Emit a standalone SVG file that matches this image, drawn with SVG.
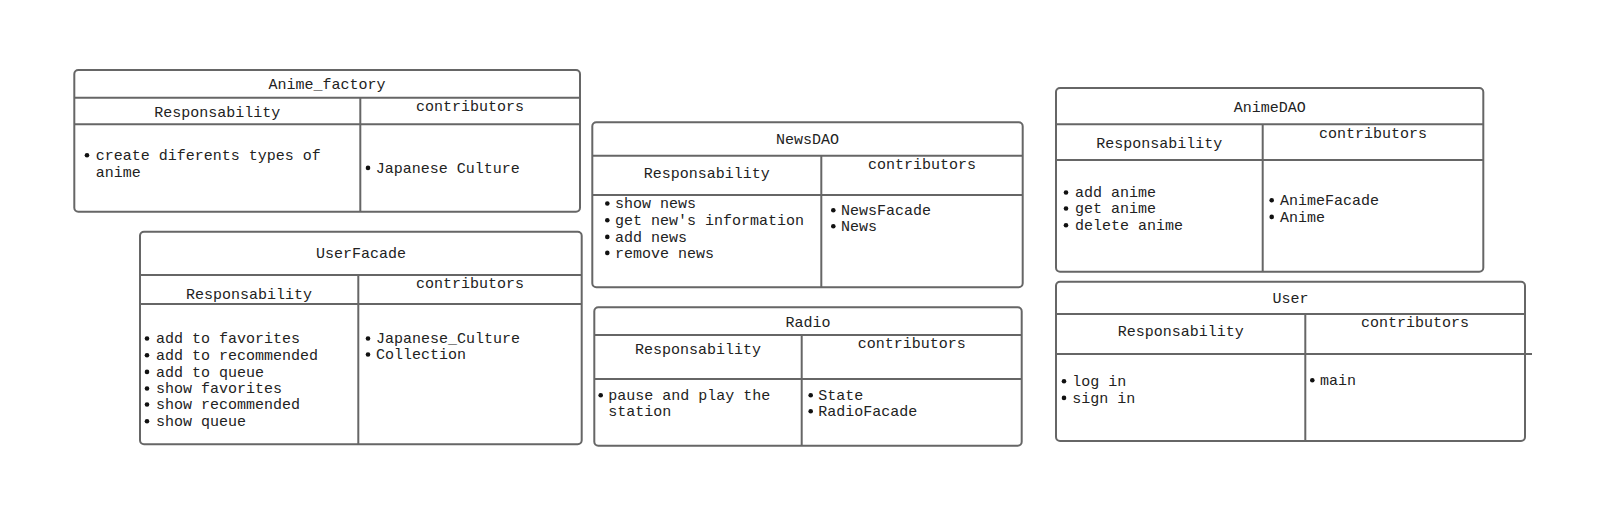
<svg xmlns="http://www.w3.org/2000/svg" width="1600" height="527" viewBox="0 0 1600 527">
<style>
.box{fill:#fff;stroke:#666;stroke-width:2}
.ln{stroke:#666;stroke-width:2;fill:none}
text{font-family:"Liberation Mono","DejaVu Sans Mono",monospace;font-size:15px;fill:#222}
.c{text-anchor:middle}
.b{fill:#111}
</style>
<rect width="1600" height="527" fill="#fff"/>
<g id="connectors"></g>

<g id="anime_factory">
<rect class="box" x="74.3" y="70" width="505.7" height="141.7" rx="4"/>
<line class="ln" x1="74.3" y1="97.7" x2="580" y2="97.7"/>
<line class="ln" x1="74.3" y1="124.3" x2="580" y2="124.3"/>
<line class="ln" x1="360.3" y1="97.7" x2="360.3" y2="211.7"/>
<text class="c" x="327" y="89.3">Anime_factory</text>
<text class="c" x="217.3" y="116.7">Responsability</text>
<text class="c" x="470" y="110.7">contributors</text>
<circle class="b" cx="87" cy="155.2" r="2.3"/>
<text x="95.7" y="160">create diferents types of</text>
<text x="95.7" y="176.7">anime</text>
<circle class="b" cx="368" cy="167.9" r="2.3"/>
<text x="375.7" y="172.7">Japanese Culture</text>
</g>

<g id="userfacade">
<rect class="box" x="140" y="231.7" width="441.7" height="212.6" rx="4"/>
<line class="ln" x1="140" y1="275" x2="581.7" y2="275"/>
<line class="ln" x1="140" y1="304" x2="581.7" y2="304"/>
<line class="ln" x1="358.3" y1="275" x2="358.3" y2="444.3"/>
<text class="c" x="361" y="258.3">UserFacade</text>
<text class="c" x="249" y="299">Responsability</text>
<text class="c" x="470" y="288.3">contributors</text>
<circle class="b" cx="147" cy="338.5" r="2.3"/>
<text x="156" y="343.3">add to favorites</text>
<circle class="b" cx="147" cy="355.2" r="2.3"/>
<text x="156" y="360">add to recommended</text>
<circle class="b" cx="147" cy="371.9" r="2.3"/>
<text x="156" y="376.7">add to queue</text>
<circle class="b" cx="147" cy="388.5" r="2.3"/>
<text x="156" y="393.3">show favorites</text>
<circle class="b" cx="147" cy="404.5" r="2.3"/>
<text x="156" y="409.3">show recommended</text>
<circle class="b" cx="147" cy="421.2" r="2.3"/>
<text x="156" y="426">show queue</text>
<circle class="b" cx="368" cy="338.5" r="2.3"/>
<text x="376" y="343.3">Japanese_Culture</text>
<circle class="b" cx="368" cy="354.5" r="2.3"/>
<text x="376" y="359.3">Collection</text>
</g>

<g id="newsdao">
<rect class="box" x="592.3" y="122.3" width="430.4" height="165" rx="4"/>
<line class="ln" x1="592.3" y1="155.7" x2="1022.7" y2="155.7"/>
<line class="ln" x1="592.3" y1="195" x2="1022.7" y2="195"/>
<line class="ln" x1="821.3" y1="155.7" x2="821.3" y2="287.3"/>
<text class="c" x="807.5" y="144.3">NewsDAO</text>
<text class="c" x="706.8" y="178.3">Responsability</text>
<text class="c" x="922" y="169">contributors</text>
<circle class="b" cx="607.3" cy="203.5" r="2.3"/>
<text x="615" y="208.3">show news</text>
<circle class="b" cx="607.3" cy="220.2" r="2.3"/>
<text x="615" y="225">get new's information</text>
<circle class="b" cx="607.3" cy="236.9" r="2.3"/>
<text x="615" y="241.7">add news</text>
<circle class="b" cx="607.3" cy="252.9" r="2.3"/>
<text x="615" y="257.7">remove news</text>
<circle class="b" cx="833.3" cy="210.2" r="2.3"/>
<text x="841" y="215">NewsFacade</text>
<circle class="b" cx="833.3" cy="226.2" r="2.3"/>
<text x="841" y="231">News</text>
</g>

<g id="radio">
<rect class="box" x="594.3" y="307.3" width="427.4" height="138.4" rx="4"/>
<line class="ln" x1="594.3" y1="335" x2="1021.7" y2="335"/>
<line class="ln" x1="594.3" y1="379" x2="1021.7" y2="379"/>
<line class="ln" x1="801.7" y1="335" x2="801.7" y2="445.7"/>
<text class="c" x="808" y="326.7">Radio</text>
<text class="c" x="698" y="354.3">Responsability</text>
<text class="c" x="911.7" y="347.7">contributors</text>
<circle class="b" cx="600.7" cy="395.2" r="2.3"/>
<text x="608.3" y="400">pause and play the</text>
<text x="608.3" y="416">station</text>
<circle class="b" cx="810.7" cy="395.2" r="2.3"/>
<text x="818.3" y="400">State</text>
<circle class="b" cx="810.7" cy="411.2" r="2.3"/>
<text x="818.3" y="416">RadioFacade</text>
</g>

<g id="animedao">
<rect class="box" x="1056" y="88" width="427.3" height="183.7" rx="4"/>
<line class="ln" x1="1056" y1="124.3" x2="1483.3" y2="124.3"/>
<line class="ln" x1="1056" y1="160" x2="1483.3" y2="160"/>
<line class="ln" x1="1262.7" y1="124.3" x2="1262.7" y2="271.7"/>
<text class="c" x="1269.7" y="111.7">AnimeDAO</text>
<text class="c" x="1159.3" y="148.3">Responsability</text>
<text class="c" x="1373" y="138.3">contributors</text>
<circle class="b" cx="1066" cy="192.5" r="2.3"/>
<text x="1075" y="197.3">add anime</text>
<circle class="b" cx="1066" cy="208.5" r="2.3"/>
<text x="1075" y="213.3">get anime</text>
<circle class="b" cx="1066" cy="225.2" r="2.3"/>
<text x="1075" y="230">delete anime</text>
<circle class="b" cx="1271.7" cy="200.2" r="2.3"/>
<text x="1280" y="205">AnimeFacade</text>
<circle class="b" cx="1271.7" cy="216.9" r="2.3"/>
<text x="1280" y="221.7">Anime</text>
</g>

<g id="user">
<rect class="box" x="1056" y="281.7" width="469" height="159.3" rx="4"/>
<line class="ln" x1="1056" y1="314" x2="1525" y2="314"/>
<line class="ln" x1="1056" y1="354" x2="1532" y2="354"/>
<line class="ln" x1="1305.3" y1="314" x2="1305.3" y2="441"/>
<text class="c" x="1290.5" y="303.3">User</text>
<text class="c" x="1180.7" y="335.7">Responsability</text>
<text class="c" x="1415" y="327.3">contributors</text>
<circle class="b" cx="1064" cy="381.2" r="2.3"/>
<text x="1072.3" y="386">log in</text>
<circle class="b" cx="1064" cy="397.9" r="2.3"/>
<text x="1072.3" y="402.7">sign in</text>
<circle class="b" cx="1312.3" cy="380.2" r="2.3"/>
<text x="1320" y="385">main</text>
</g>
</svg>
